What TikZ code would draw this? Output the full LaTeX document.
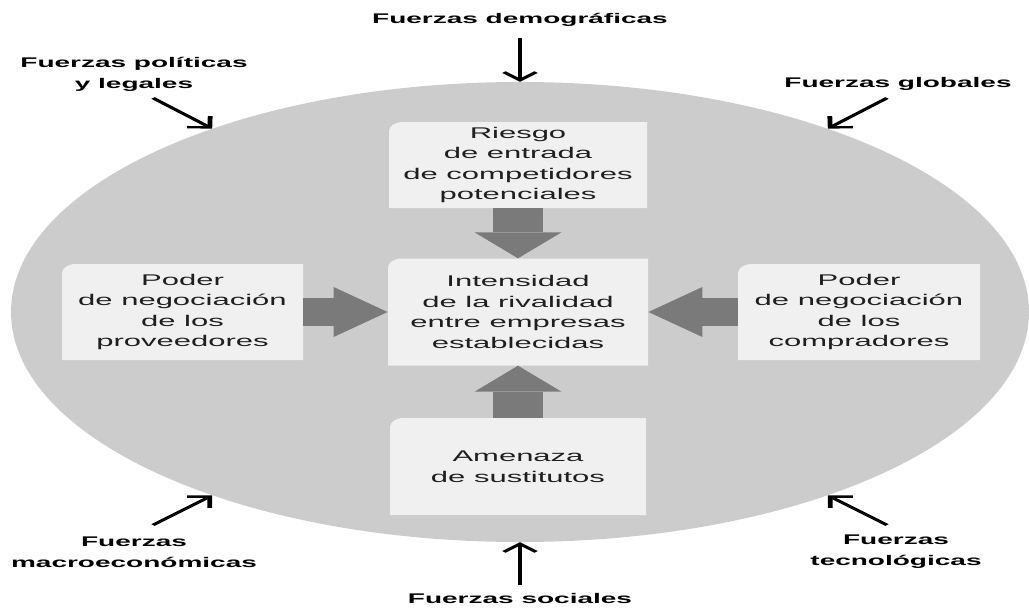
\documentclass[tikz,border=0pt]{standalone}
\usepackage{fontspec}
\setmainfont{Liberation Sans}
\usetikzlibrary{arrows.meta,shapes.geometric}
\definecolor{fondo}{gray}{0.80}
\definecolor{fondocaja}{gray}{0.94}
\definecolor{gruesa}{gray}{0.48}
\definecolor{letra}{gray}{0.12}
\tikzset{
	caja/.style={inner sep=0pt, align=center, text=letra, font=\fontsize{15.5}{20.5}\selectfont,
		path picture={\fill[fondocaja] ([yshift=-9pt]path picture bounding box.north west) arc[start angle=180, end angle=90, x radius=7pt, y radius=9pt] -- (path picture bounding box.north east) -- (path picture bounding box.south east) -- (path picture bounding box.south west) -- cycle;}},
	fuerza/.style={inner sep=0pt, align=center, text=black, font=\fontsize{14}{21}\selectfont\bfseries},
	bloquev/.style={gruesa, line width=25pt, -{Triangle[length=26pt, width=43.5pt, line width=0pt]}},
	bloqueh/.style={gruesa, line width=28pt, -{Triangle[length=27pt, width=50pt, line width=0pt]}},
	empuje/.style={black, line width=2.4pt, -{Straight Barb[length=8pt, width=16pt]}}
}

\begin{document}
\begin{tikzpicture}[x=1pt, y=-1pt]
			%%%%% START %%%%%
			\useasboundingbox (0,0) rectangle (1029,611);
			
			\begin{scope}[transform canvas={xscale=2}, x=0.5pt]
			
			\node[ellipse, fill=fondo, inner sep=0pt, minimum width=509pt, minimum height=460pt] (entorno) at (520,312) {};
			
			\node[caja, minimum width=129pt, minimum height=86pt] (riesgo) at (518,165) {Riesgo\\de entrada\\de competidores\\potenciales};
			\node[caja, minimum width=130pt, minimum height=107pt] (rivalidad) at (518,312) {Intensidad\\de la rivalidad\\entre empresas\\establecidas};
			\node[caja, minimum width=128pt, minimum height=97pt] (sustitutos) at (518,466.5) {Amenaza\\de sustitutos};
			\node[caja, minimum width=120.5pt, minimum height=96pt] (proveedores) at (182.5,312) {Poder\\de negociación\\de los\\proveedores};
			\node[caja, minimum width=121pt, minimum height=96pt] (compradores) at (859,312) {Poder\\de negociación\\de los\\compradores};
			
			\draw[bloquev] (riesgo.south) -- (rivalidad.north);
			\draw[bloquev] (sustitutos.north) -- (rivalidad.south);
			\draw[bloqueh] (proveedores.east) -- (rivalidad.west);
			\draw[bloqueh] (compradores.west) -- (rivalidad.east);
			
			\node[fuerza] (dem) at (520,20) {Fuerzas demográficas};
			\node[fuerza] (soc) at (520,598) {Fuerzas sociales};
			\node[fuerza] (pol) at (134,74) {Fuerzas políticas\\y legales};
			\node[fuerza] (glob) at (898,84) {Fuerzas globales};
			\node[fuerza] (macro) at (134,552) {Fuerzas\\macroeconómicas};
			\node[fuerza] (tec) at (896,552) {Fuerzas\\tecnológicas};
			
			\coordinate (ini-dem) at (520,38);
			\coordinate (ini-soc) at (520,585);
			\coordinate (ini-pol) at (153,98);
			\coordinate (ini-glob) at (887,98);
			\coordinate (ini-macro) at (153,525);
			\coordinate (ini-tec) at (887,525);
			
			\draw[empuje] (ini-dem) -- (entorno.north);
			\draw[empuje] (ini-soc) -- (entorno.south);
			\draw[empuje] (ini-pol) -- (entorno.130);
			\draw[empuje] (ini-glob) -- (entorno.50);
			\draw[empuje] (ini-macro) -- (entorno.230);
			\draw[empuje] (ini-tec) -- (entorno.310);
			
			\end{scope}
			%%%%% END %%%%%
\end{tikzpicture}
\end{document}
